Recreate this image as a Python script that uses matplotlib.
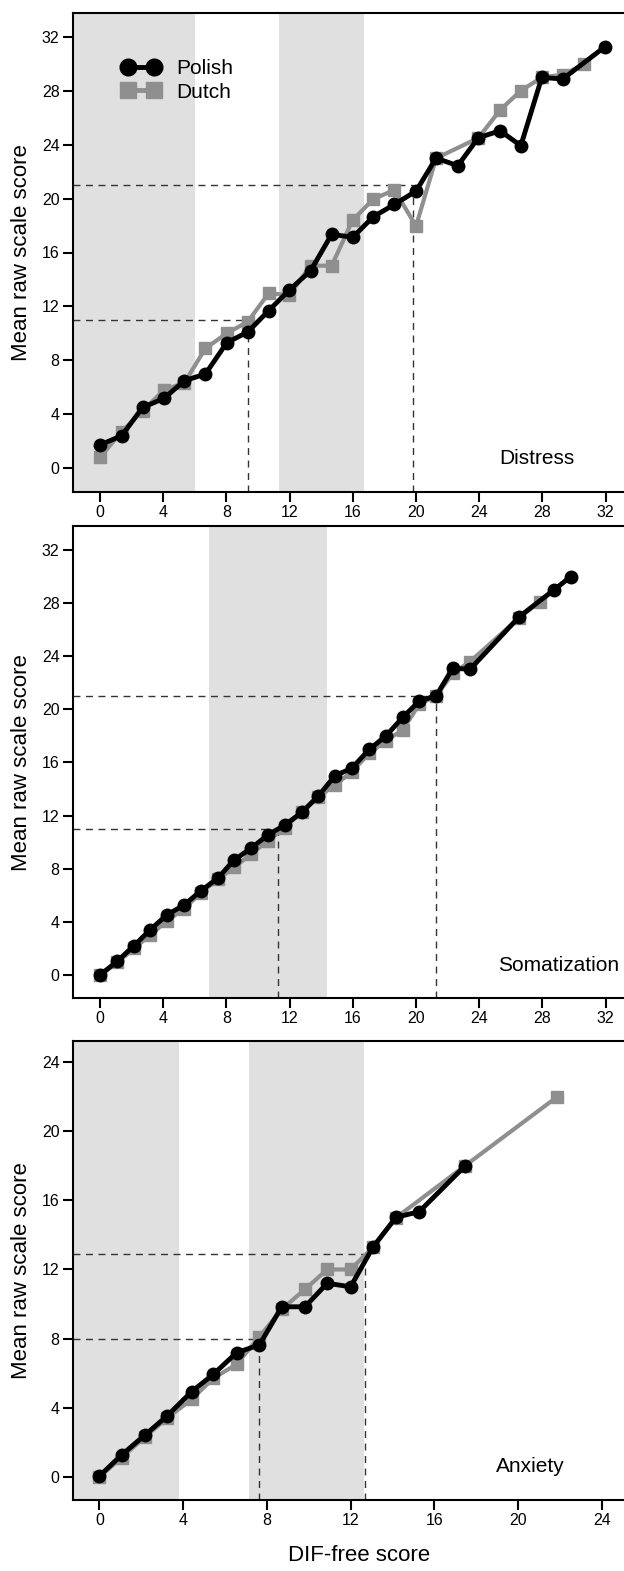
import matplotlib
matplotlib.use("Agg")
import matplotlib.pyplot as plt
from matplotlib.lines import Line2D

plt.rcParams['font.family'] = ['Liberation Sans', 'DejaVu Sans']

# ---------------- data ----------------
# Distress
dis_pol_x = [0, 1.37, 2.70, 4.05, 5.34, 6.67, 8.02, 9.35, 10.67, 11.98, 13.33, 14.66,
             15.99, 17.30, 18.63, 20.0, 21.27, 22.64, 23.94, 25.32, 26.63, 27.96, 29.28, 31.96]
dis_pol_y = [1.71, 2.40, 4.50, 5.17, 6.48, 6.98, 9.30, 10.10, 11.68, 13.21, 14.65, 17.35,
             17.13, 18.66, 19.57, 20.56, 23.01, 22.44, 24.52, 25.04, 23.93, 29.0, 28.88, 31.28]
dis_dut_x = [0, 1.37, 2.70, 4.05, 5.34, 6.67, 8.02, 9.35, 10.67, 11.98, 13.33, 14.66,
             15.99, 17.30, 18.63, 20.0, 21.27, 23.94, 25.32, 26.63, 27.96, 29.28, 30.63]
dis_dut_y = [0.79, 2.70, 4.25, 5.79, 6.33, 8.88, 10.0, 10.86, 12.97, 12.84, 15.02, 15.02,
             18.41, 19.97, 20.64, 17.97, 23.0, 24.5, 26.58, 28.01, 29.0, 29.2, 29.97]
dis_bands = [(-5, 6.0), (11.3, 16.73)]
dis_cut_x = [9.35, 19.83]
dis_cut_y = [11, 21]

# Somatization
som_pol_x = [0, 1.10, 2.15, 3.16, 4.22, 5.32, 6.39, 7.45, 8.48, 9.56, 10.61, 11.71, 12.77,
             13.82, 14.87, 15.93, 17.05, 18.10, 19.16, 20.21, 21.27, 22.32, 23.42, 26.54,
             28.73, 29.79]
som_pol_y = [0, 1.05, 2.21, 3.39, 4.52, 5.27, 6.35, 7.28, 8.66, 9.54, 10.54, 11.30, 12.25,
             13.48, 15.01, 15.56, 17.0, 18.0, 19.40, 20.63, 21.01, 23.09, 23.02, 26.98,
             28.99, 29.99]
som_dut_x = [0, 1.10, 2.15, 3.16, 4.22, 5.32, 6.39, 7.45, 8.48, 9.56, 10.61, 11.71, 12.77,
             13.82, 14.87, 15.93, 17.05, 18.10, 19.16, 20.21, 21.27, 22.32, 23.42, 26.54, 27.83]
som_dut_y = [0, 0.95, 2.0, 3.0, 4.05, 5.0, 6.2, 7.2, 8.1, 9.1, 10.1, 11.1, 12.3,
             13.4, 14.3, 15.3, 16.7, 17.65, 18.45, 20.4, 21.0, 22.7, 23.6, 26.9, 28.1]
som_bands = [(6.92, 14.35)]
som_cut_x = [11.25, 21.27]
som_cut_y = [11, 21]

# Anxiety
anx_pol_x = [0, 1.06, 2.17, 3.24, 4.40, 5.44, 6.55, 7.64, 8.71, 9.82, 10.88, 12.0,
             13.08, 14.17, 15.28, 17.46]
anx_pol_y = [0.04, 1.26, 2.41, 3.53, 4.92, 5.93, 7.18, 7.63, 9.84, 9.84, 11.20, 11.0,
             13.32, 15.02, 15.35, 17.99]
anx_dut_x = [0, 1.06, 2.17, 3.24, 4.40, 5.44, 6.55, 7.64, 8.71, 9.82, 10.88, 12.0,
             13.08, 14.17, 17.46, 21.87]
anx_dut_y = [0.0, 1.1, 2.3, 3.4, 4.48, 5.7, 6.51, 8.1, 9.7, 10.85, 12.0, 12.0,
             13.3, 15.0, 18.0, 22.0]
anx_bands = [(-5, 3.80), (7.16, 12.65)]
anx_cut_x = [7.64, 12.67]
anx_cut_y = [8, 12.9]

panel_names = ["Distress", "Somatization", "Anxiety"]
xticks_big = [0, 4, 8, 12, 16, 20, 24, 28, 32]
xticks_small = [0, 4, 8, 12, 16, 20, 24]

# ---------------- figure ----------------
W, H = 624, 1571
fig = plt.figure(figsize=(W / 100, H / 100), dpi=100)

def px_axes(left, top, right, bottom):
    return fig.add_axes([left / W, 1 - bottom / H, (right - left) / W, (bottom - top) / H])

panels = [
    dict(rect=(72.7, 13.3, 633, 491.7), xlim=(-1.73, 33.73), ylim=(-1.76, 33.76),
         pol=(dis_pol_x, dis_pol_y), dut=(dis_dut_x, dis_dut_y), bands=dis_bands,
         cx=dis_cut_x, cy=dis_cut_y, xt=xticks_big, yt=xticks_big, name=panel_names[0],
         namepos=(536.5, 458.5)),
    dict(rect=(72.7, 526, 633, 998.3), xlim=(-1.73, 33.73), ylim=(-1.75, 33.8),
         pol=(som_pol_x, som_pol_y), dut=(som_dut_x, som_dut_y), bands=som_bands,
         cx=som_cut_x, cy=som_cut_y, xt=xticks_big, yt=xticks_big, name=panel_names[1],
         namepos=(559, 965)),
    dict(rect=(72.7, 1040.7, 630, 1500), xlim=(-1.28, 25.35), ylim=(-1.35, 25.25),
         pol=(anx_pol_x, anx_pol_y), dut=(anx_dut_x, anx_dut_y), bands=anx_bands,
         cx=anx_cut_x, cy=anx_cut_y, xt=xticks_small, yt=xticks_small, name=panel_names[2],
         namepos=(530, 1466.5)),
]

black = "#000000"
grey = "#8f8f8f"
shade = "#e0e0e0"

for i, p in enumerate(panels):
    ax = px_axes(*p["rect"])
    ax.set_xlim(*p["xlim"])
    ax.set_ylim(*p["ylim"])
    for a, b in p["bands"]:
        ax.axvspan(a, b, color=shade, lw=0, zorder=0)
    # dashed cut-off lines
    for cxv, cyv in zip(p["cx"], p["cy"]):
        ax.plot([p["xlim"][0], cxv], [cyv, cyv], ls=(0, (5, 4)), color="#333333", lw=1.0, zorder=1)
        ax.plot([cxv, cxv], [p["ylim"][0], cyv], ls=(0, (5, 4)), color="#333333", lw=1.0, zorder=1)
    ax.plot(*p["dut"], color=grey, lw=3.0, marker="s", ms=8.5, mec=grey, mfc=grey,
            zorder=2, solid_joinstyle="miter")
    ax.plot(*p["pol"], color=black, lw=3.5, marker="o", ms=9, mec=black, mfc=black, zorder=3)
    ax.set_xticks(p["xt"])
    ax.set_yticks(p["yt"])
    ax.tick_params(direction="out", length=7, width=1.5, labelsize=11.5, pad=2.5)
    for s in ["left", "bottom", "top"]:
        ax.spines[s].set_linewidth(1.5)
    ax.spines["right"].set_visible(False)
    ax.set_ylabel("Mean raw scale score", fontsize=16)
    ax.yaxis.set_label_coords(-0.073, 0.5)
    fig.text(p["namepos"][0] / W, 1 - p["namepos"][1] / H, p["name"], fontsize=15,
             ha="center", va="center")
    if i == 0:
        handles = [Line2D([0], [0], color=black, lw=3.5, marker="o", ms=12, mfc=black, mec=black),
                   Line2D([0], [0], color=grey, lw=3.5, marker="s", ms=12, mfc=grey, mec=grey)]
        ax.legend(handles, ["Polish", "Dutch"], loc="upper left",
                  bbox_to_anchor=((121.7 - 72.7) / 560, 1 - (59.5 - 13.3) / 478.4),
                  frameon=False, numpoints=2, handlelength=1.84, handletextpad=0.8,
                  fontsize=15, labelspacing=0.2, borderaxespad=0, borderpad=0)
    if i == 2:
        ax.set_xlabel("DIF-free score", fontsize=16)
        ax.xaxis.set_label_coords((359.5 - 72.7) / 557.3, -0.098)

fig.savefig("out.png", dpi=100)
